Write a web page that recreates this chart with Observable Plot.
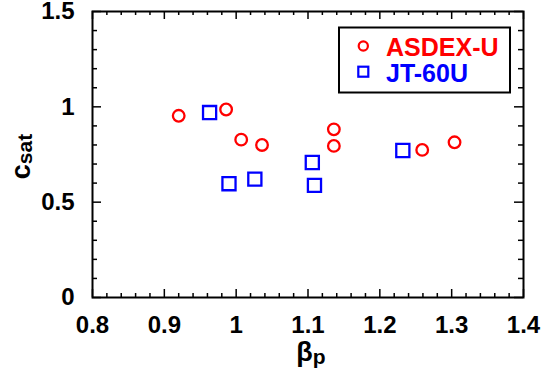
<!DOCTYPE html>
<html>
<head>
<meta charset="utf-8">
<script src="https://cdn.jsdelivr.net/npm/d3@7"></script>
<script src="https://cdn.jsdelivr.net/npm/@observablehq/plot@0.6"></script>
<style>
  html, body { margin: 0; padding: 0; background: #fff; }
  #chart svg { display: block; }
</style>
</head>
<body>
<div id="chart"></div>
<script>
// ---- data ----
const asdexBeta = [0.920, 0.986, 1.007, 1.036, 1.136, 1.136, 1.259, 1.304];
const asdexCsat = [0.953, 0.986, 0.828, 0.800, 0.882, 0.795, 0.774, 0.814];
const jtBeta    = [0.963, 0.990, 1.026, 1.106, 1.109, 1.232];
const jtCsat    = [0.970, 0.597, 0.621, 0.708, 0.588, 0.771];
const seriesNames = ["ASDEX-U", "JT-60U"];
const xTicks = [0.8, 0.9, 1, 1.1, 1.2, 1.3, 1.4];
const yTicks = [0, 0.5, 1, 1.5];
const xMinorStep = 0.02;
const yMinorStep = 0.1;

// ---- derived tables ----
const asdex = asdexBeta.map((b, i) => ({beta: b, csat: asdexCsat[i]}));
const jt = jtBeta.map((b, i) => ({beta: b, csat: jtCsat[i]}));
const isMajor = (v, majors) => majors.some(m => Math.abs(m - v) < 1e-9);
const xMinor = d3.range(0, Math.round((1.4 - 0.8) / xMinorStep) + 1)
  .map(i => +(0.8 + i * xMinorStep).toFixed(4)).filter(v => !isMajor(v, xTicks));
const yMinor = d3.range(0, Math.round(1.5 / yMinorStep) + 1)
  .map(i => +(i * yMinorStep).toFixed(4)).filter(v => !isMajor(v, yTicks));

// ---- layout ----
const W = 547, H = 372, mL = 92, mR = 24, mT = 11, mB = 75;
const fw = W - mL - mR, fh = H - mT - mB;
const FONT = "'Liberation Sans', Arial, Helvetica, sans-serif";
const xMajLen = 8, xMinLen = 4, yMajLen = 9, yMinLen = 5, tw = 1.5;

const chart = Plot.plot({
  width: W, height: H,
  marginLeft: mL, marginRight: mR, marginTop: mT, marginBottom: mB,
  style: {fontFamily: FONT, fontSize: "24px", fontWeight: "bold", color: "black", background: "white"},
  x: {domain: [0.8, 1.4], ticks: xTicks, tickSize: 0, tickPadding: 18, tickFormat: d => String(d), label: null},
  y: {domain: [0, 1.5], ticks: yTicks, tickSize: 0, tickPadding: 18, tickFormat: d => String(d), label: null},
  marks: [
    // inward ticks: bottom / top
    Plot.ruleX(xTicks, {x: d => d, insetTop: fh - xMajLen, stroke: "black", strokeWidth: tw}),
    Plot.ruleX(xMinor, {x: d => d, insetTop: fh - xMinLen, stroke: "black", strokeWidth: tw}),
    Plot.ruleX(xTicks, {x: d => d, insetBottom: fh - xMajLen, stroke: "black", strokeWidth: tw}),
    Plot.ruleX(xMinor, {x: d => d, insetBottom: fh - xMinLen, stroke: "black", strokeWidth: tw}),
    // inward ticks: left / right
    Plot.ruleY(yTicks, {y: d => d, insetRight: fw - yMajLen, stroke: "black", strokeWidth: tw}),
    Plot.ruleY(yMinor, {y: d => d, insetRight: fw - yMinLen, stroke: "black", strokeWidth: tw}),
    Plot.ruleY(yTicks, {y: d => d, insetLeft: fw - yMajLen, stroke: "black", strokeWidth: tw}),
    Plot.ruleY(yMinor, {y: d => d, insetLeft: fw - yMinLen, stroke: "black", strokeWidth: tw}),
    Plot.frame({stroke: "black", strokeWidth: 2}),
    Plot.dot(asdex, {x: "beta", y: "csat", r: 5.8, stroke: "#ff0000", strokeWidth: 2.3, fill: "none"}),
    Plot.dot(jt, {x: "beta", y: "csat", symbol: "square", r: 7.4, stroke: "#0000ff", strokeWidth: 2.3, fill: "none"})
  ]
});
document.getElementById("chart").appendChild(chart);

// ---- axis titles with subscripts ----
const svg = d3.select(chart);
const ylab = svg.append("text")
  .attr("transform", "translate(30,156.5) rotate(-90)")
  .attr("text-anchor", "middle").attr("font-family", FONT)
  .attr("font-weight", "bold").attr("font-size", 27).attr("fill", "black");
ylab.append("tspan").text("c");
ylab.append("tspan").attr("font-size", 21).attr("dy", 2).text("sat");

const xlab = svg.append("text")
  .attr("x", 311).attr("y", 361)
  .attr("text-anchor", "middle").attr("font-family", FONT)
  .attr("font-weight", "bold").attr("font-size", 27).attr("fill", "black");
xlab.append("tspan").text("β");
xlab.append("tspan").attr("font-size", 21).attr("dy", 3).text("p");

// ---- legend ----
const lg = svg.append("g").attr("font-family", FONT).attr("font-weight", "bold")
  .attr("font-size", 25).attr("text-anchor", "start");
lg.append("rect").attr("x", 339).attr("y", 27.5).attr("width", 171).attr("height", 65)
  .attr("fill", "white").attr("stroke", "black").attr("stroke-width", 2);
lg.append("circle").attr("cx", 363.3).attr("cy", 46).attr("r", 4.6)
  .attr("fill", "none").attr("stroke", "#ff0000").attr("stroke-width", 2.2);
lg.append("rect").attr("x", 358.3).attr("y", 66.7).attr("width", 10).attr("height", 10)
  .attr("fill", "none").attr("stroke", "#0000ff").attr("stroke-width", 2.2);
lg.append("text").attr("x", 386).attr("y", 56).attr("text-anchor", "start").attr("fill", "#ff0000").text(seriesNames[0]);
lg.append("text").attr("x", 386).attr("y", 82).attr("text-anchor", "start").attr("fill", "#0000ff").text(seriesNames[1]);
</script>
</body>
</html>
